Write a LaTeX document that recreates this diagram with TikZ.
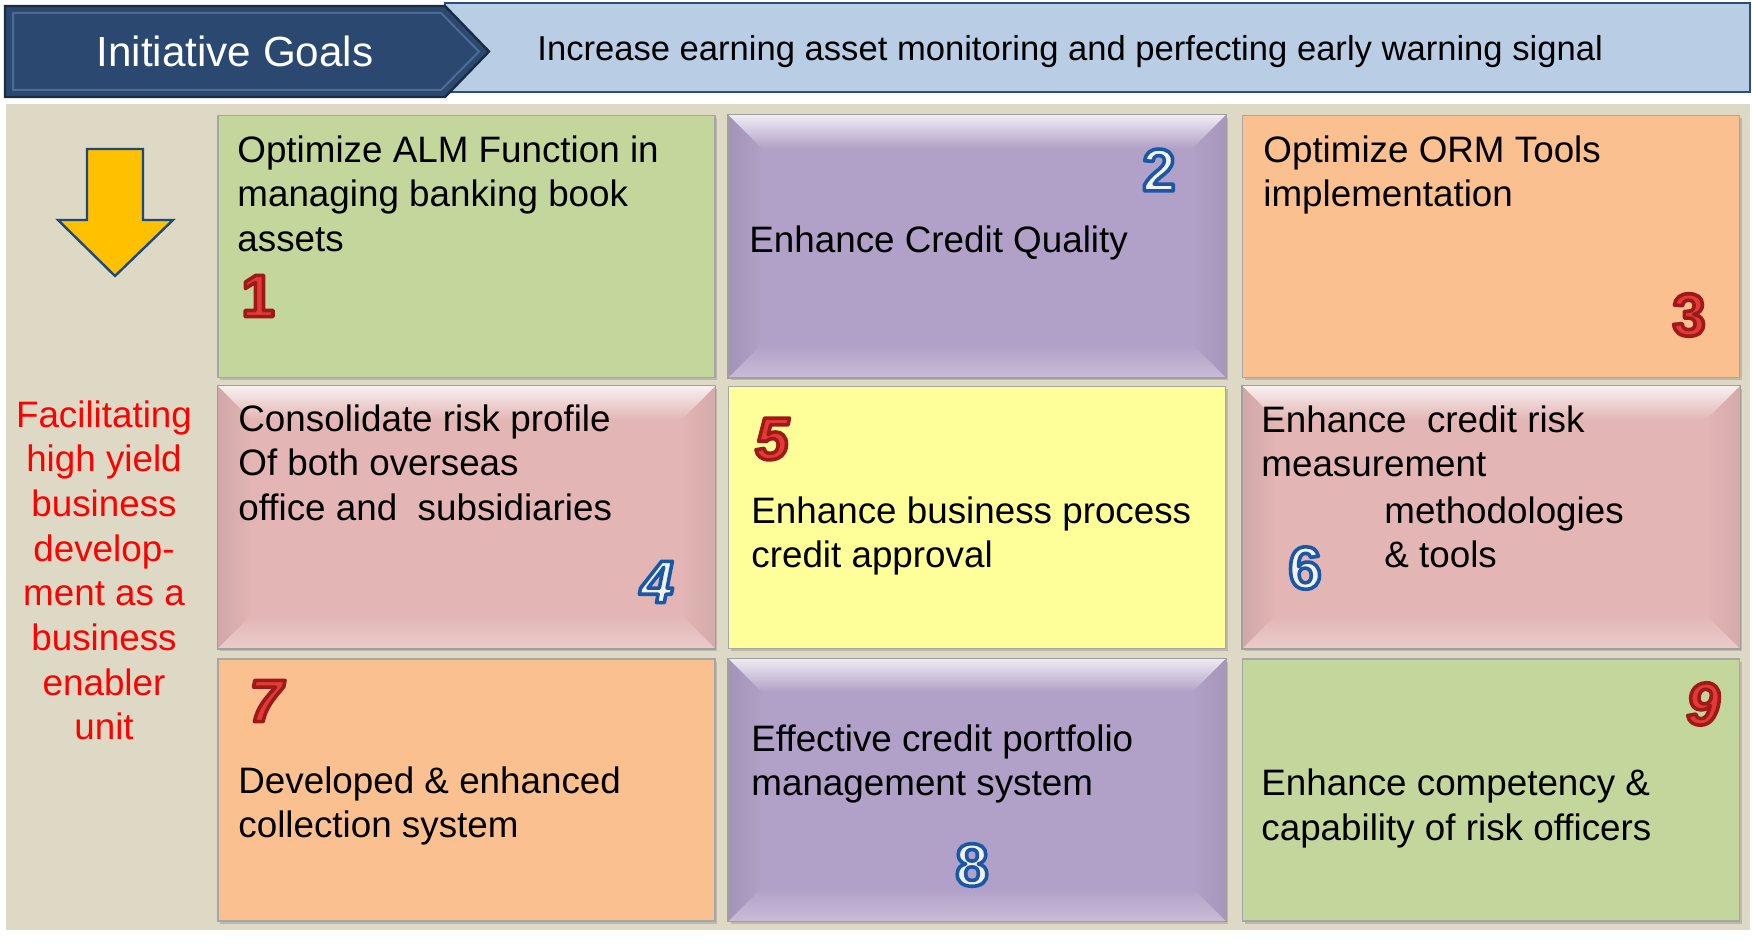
\documentclass[tikz,border=0pt]{standalone}
\usepackage{fontspec}
\setmainfont{Liberation Sans}
\usetikzlibrary{shadows}
\definecolor{beige}{HTML}{DDD9C4}
\definecolor{hdark}{HTML}{2B4870}
\definecolor{hdarkline}{HTML}{1B2B40}
\definecolor{hinner}{HTML}{4C6C96}
\definecolor{hlight}{HTML}{B9CDE5}
\definecolor{hlightline}{HTML}{2A4C7E}
\definecolor{cgreen}{HTML}{C3D69B}
\definecolor{cpurple}{HTML}{B1A0C7}
\definecolor{corange}{HTML}{FAC090}
\definecolor{cpink}{HTML}{E3B5B5}
\definecolor{cyellow}{HTML}{FFFF99}
\definecolor{arrowfill}{HTML}{FFC000}
\definecolor{arrowline}{HTML}{1F497D}
\definecolor{numred}{HTML}{E23B36}
\definecolor{numcream}{HTML}{F4F2E8}
\newcommand{\bevelit}[2]{%
  \shade[top color=white!80!#2, bottom color=#2]
    (#1.north west) -- (#1.north east) -- ([xshift=-17pt,yshift=-17pt]#1.north east) -- ([xshift=17pt,yshift=-17pt]#1.north west) -- cycle;
  \shade[left color=#2!92!black, right color=#2]
    (#1.north west) -- ([xshift=17pt,yshift=-17pt]#1.north west) -- ([xshift=17pt,yshift=17pt]#1.south west) -- (#1.south west) -- cycle;
  \shade[left color=#2, right color=#2!94!black]
    (#1.north east) -- ([xshift=-17pt,yshift=-17pt]#1.north east) -- ([xshift=-17pt,yshift=17pt]#1.south east) -- (#1.south east) -- cycle;
  \shade[top color=#2, bottom color=white!30!#2]
    (#1.south west) -- ([xshift=17pt,yshift=17pt]#1.south west) -- ([xshift=-17pt,yshift=17pt]#1.south east) -- (#1.south east) -- cycle;
  \draw[gray!75, line width=0.6pt] (#1.north west) rectangle (#1.south east);
}
\tikzset{
  cellbox/.style={draw=gray!70, line width=0.6pt, minimum width=248.5pt, minimum height=131pt, inner sep=0pt},
  shadowed/.style={drop shadow={shadow xshift=1.2pt, shadow yshift=-1.5pt, opacity=0.35}},
  celltext/.style={anchor=north west, align=left, inner sep=0pt, font=\fontsize{18.4}{22.35}\selectfont},
  numstyle/.style={font=\fontsize{30}{30}\selectfont\bfseries, inner sep=0pt}
}
% outlined digits: fill colour, stroke colour as "r g b"
\newcommand{\outlined}[3]{\textcolor{#2}{\special{pdf:literal direct q 2 Tr 1.8 w 1 j #3 RG}#1\special{pdf:literal direct Q}}}
\newcommand{\rednumber}[1]{\outlined{#1}{numred}{0.62 0.1 0.1}}
\newcommand{\bluenumber}[1]{\outlined{#1}{numcream}{0.1 0.34 0.66}}
\begin{document}
\begin{tikzpicture}[x=0.5pt,y=-0.5pt]
\useasboundingbox (0,0) rectangle (1752,945);
\fill[white] (0,0) rectangle (1752,945);
% background panel
\fill[beige] (6,104) rectangle (1750,930);
% header
\node[draw=hlightline, fill=hlight, line width=0.8pt, minimum width=652.5pt, minimum height=44.5pt, inner sep=0pt] (goalbar) at (1097.5,47.5) {};
\node[anchor=base west, inner sep=0pt, font=\fontsize{17.3}{20}\selectfont] (goaltext) at (537,61) {Increase earning asset monitoring and perfecting early warning signal};
\filldraw[fill=hdark, draw=hdarkline, line width=1.2pt] (5,6) -- (445,6) -- (489,51.5) -- (445,97) -- (5,97) -- cycle;
\draw[hinner, line width=1pt] (13,13) -- (441,13) -- (479,51.5) -- (441,90) -- (13,90) -- cycle;
\node[text=white, font=\fontsize{21.1}{24}\selectfont, inner sep=0pt, anchor=base] (goals) at (235,67) {Initiative Goals};
% arrow
\filldraw[fill=arrowfill, draw=arrowline, line width=1.2pt] (87,149) -- (143,149) -- (143,220) -- (173,220) -- (115,276) -- (58,220) -- (87,220) -- cycle;
% left label
\node[anchor=north, align=center, inner sep=0pt, text=red, font=\fontsize{18.4}{22.35}\selectfont] (enabler) at (104,400) {Facilitating\\high yield\\business\\develop-\\ment as a\\business\\enabler\\unit};
% cells
\node[cellbox, fill=cgreen, shadowed] (c1) at (466.5,246.5) {};
\node[cellbox, fill=cpurple, shadowed] (c2) at (977,246.5) {};
\bevelit{c2}{cpurple}
\node[cellbox, fill=corange, shadowed] (c3) at (1491,246.5) {};
\node[cellbox, fill=cpink, shadowed] (c4) at (466.5,517.5) {};
\bevelit{c4}{cpink}
\node[cellbox, fill=cyellow, shadowed] (c5) at (977,517.5) {};
\node[cellbox, fill=cpink, shadowed] (c6) at (1491,517.5) {};
\bevelit{c6}{cpink}
\node[cellbox, fill=corange, shadowed] (c7) at (466.5,790) {};
\node[cellbox, fill=cpurple, shadowed] (c8) at (977,790) {};
\bevelit{c8}{cpurple}
\node[cellbox, fill=cgreen, shadowed] (c9) at (1491,790) {};
% texts
\node[celltext] (t1) at (237,135) {Optimize ALM Function in\\managing banking book\\assets};
\node[celltext] (t2) at (749,225.5) {Enhance Credit Quality};
\node[celltext] (t3) at (1263,135) {Optimize ORM Tools\\implementation};
\node[celltext] (t4) at (238,404) {Consolidate risk profile\\Of both overseas\\office and\ \ subsidiaries};
\node[celltext] (t5) at (751,496) {Enhance business process\\credit approval};
\node[celltext] (t6) at (1261,405) {Enhance\ \ credit risk\\measurement};
\node[celltext] (t6b) at (1384,496) {methodologies\\\& tools};
\node[celltext] (t7) at (238,766) {Developed \& enhanced\\collection system};
\node[celltext] (t8) at (751,724) {Effective credit portfolio\\management system};
\node[celltext] (t9) at (1261,768.5) {Enhance competency \&\\capability of risk officers};
% numbers
\node[numstyle] (n1) at (258,296) {\rednumber{1}};
\node[numstyle] (n2) at (1159,170) {\bluenumber{2}};
\node[numstyle] (n3) at (1689,315) {\rednumber{3}};
\node[numstyle] (n4) at (657,582) {\bluenumber{\itshape 4}};
\node[numstyle] (n5) at (772,439) {\rednumber{\itshape 5}};
\node[numstyle] (n6) at (1305,568) {\bluenumber{6}};
\node[numstyle] (n7) at (266,701) {\rednumber{\itshape 7}};
\node[numstyle] (n8) at (972,865) {\bluenumber{8}};
\node[numstyle] (n9) at (1703,704) {\rednumber{\itshape 9}};
\end{tikzpicture}
\end{document}
